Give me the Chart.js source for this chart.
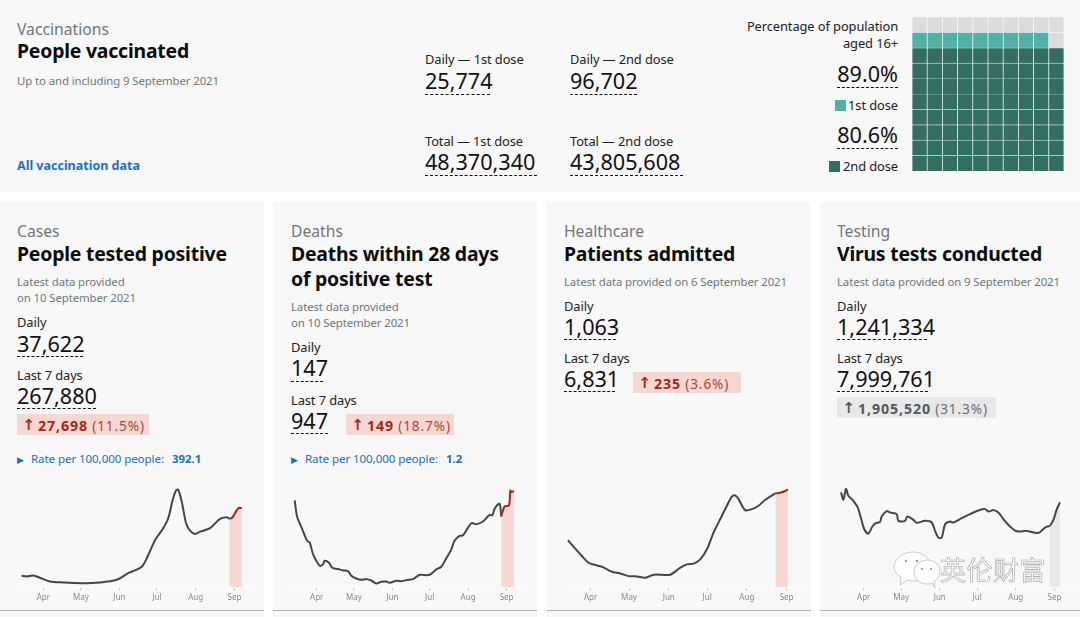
<!DOCTYPE html>
<html>
<head>
<meta charset="utf-8">
<script src="https://cdn.jsdelivr.net/npm/chart.js@4"></script>
<style>
  html, body { margin: 0; padding: 0; background: #fff; }
  body { width: 1080px; height: 617px; overflow: hidden; position: relative; font-family: "Noto Sans", sans-serif; color: #0b0c0c; }
  .panel { position: absolute; background: #f8f8f8; }
  .t { position: absolute; white-space: nowrap; transform: translateY(-50%); line-height: 1; }
  .kicker { font-size: 15.7px; color: #6f777b; margin-top: 1px; }
  .title { font-size: 19.4px; font-weight: 700; letter-spacing: -0.2px; }
  .small { font-size: 11.4px; color: #6f777b; letter-spacing: -0.1px; }
  .label { font-size: 12.9px; color: #222; letter-spacing: -0.1px; margin-top: -0.5px; }
  .num { font-size: 21.6px; color: #111; font-weight: 400; }
  .link { color: #1d70b8; }
  .rule { position: absolute; border-top: 1px dashed #111; height: 0; }
  .box { position: absolute; }
  canvas { position: absolute; }
</style>
</head>
<body>
<script>
// Chart data
const monthDays = [17, 47, 78, 108, 139, 170];
const monthLabels = ['Apr', 'May', 'Jun', 'Jul', 'Aug', 'Sep'];

const casesDays = [-0.4, 3.6, 9, 14.3, 22.3, 33, 47.7, 62.4, 75.7, 85, 95.8, 101, 106.5, 113, 117, 120.6, 123.3, 125, 127.8, 131.3, 134.5, 138.5, 142.5, 150.5, 158.5, 163.9, 166, 168.4, 171.3, 173.5, 175.9];
const casesValues = [5670, 5350, 5830, 4700, 2900, 2430, 2100, 2430, 3730, 6970, 10040, 15700, 23000, 28700, 33500, 42400, 47000, 47300, 41600, 31100, 27500, 25900, 27050, 28700, 33200, 34000, 33200, 33860, 36800, 38550, 38400];

const deathsDays = [-0.7, 1.2, 4.7, 9.2, 11.4, 14, 16.7, 19.4, 22.1, 23.4, 26.9, 29.6, 34.2, 38.2, 42.2, 44.9, 48.9, 53, 57, 61, 65, 69.1, 73.1, 75.8, 81.2, 85.2, 90.6, 94.6, 100, 104, 108, 113.4, 117.4, 121.4, 125.5, 128.1, 132.2, 134.9, 141.6, 145.6, 151, 156.3, 158.5, 160.6, 164.4, 165.7, 168.4, 171.9, 173, 174.3, 175.9];
const deathsValues = [130, 106, 90, 70, 67, 50, 40, 32.5, 34.5, 40, 37, 29.5, 27.5, 25.5, 24.5, 17.5, 13.5, 11.5, 12.5, 10.5, 6, 8.5, 9, 7, 10, 9.5, 11.5, 12.5, 19, 18.5, 19, 27, 31, 43.5, 57, 70, 77, 78, 96, 94.5, 98.5, 108.5, 107.5, 118.5, 125, 106, 121, 122.5, 144.5, 142.5, 144.5];

const admissionsDays = [-0.7, 5, 10.2, 15.4, 20.6, 25.8, 33.7, 40.2, 46.7, 53.2, 59.7, 66.2, 72.7, 79.2, 87, 92.2, 97.4, 102.6, 107.8, 113, 118.2, 123.4, 127.3, 129.9, 132.5, 137.7, 142.9, 148.1, 153.4, 161.2, 165.1, 169, 171];
const admissionsValues = [494, 406, 329, 259, 235, 217, 165, 147, 119, 116, 102, 133, 133, 133, 207, 242, 249, 294, 399, 574, 714, 854, 949, 963, 924, 809, 819, 854, 917, 984, 991, 1008, 1026];

const testsDays = [-1.2, 0.7, 2.8, 4.7, 8.7, 12.2, 14.9, 17.5, 20.7, 24, 26.6, 30.1, 31.4, 35.5, 38.1, 43.5, 44.8, 50.2, 52, 56.9, 59.5, 66.2, 71.6, 74.2, 76.9, 79.6, 82.3, 86.3, 88.9, 95.6, 102.3, 109, 114.4, 117, 121, 125, 129.1, 134.4, 139.8, 147.8, 157.1, 162.5, 166.5, 169.2, 171.9, 174.5];
const testsValues = [1136, 1048, 1176, 1096, 1036, 956, 824, 696, 644, 728, 768, 784, 848, 912, 896, 876, 796, 796, 848, 808, 772, 796, 776, 676, 596, 596, 756, 788, 776, 828, 876, 920, 936, 908, 924, 896, 816, 728, 672, 676, 652, 716, 736, 808, 936, 1016];

const firstDoseCells = 89;
const secondDoseCells = 80;

function txt(x, y, str, cls, style) {
  const d = document.createElement('div');
  d.className = 't ' + cls;
  d.style.left = x + 'px';
  d.style.top = y + 'px';
  d.innerHTML = str;
  if (style) d.style.cssText += style;
  document.body.appendChild(d);
  return d;
}
function txtRight(x, y, str, cls) {
  return txt(0, y, str, cls, 'left:auto;right:' + (1080 - x) + 'px;');
}
function rule(x1, x2, y) {
  const d = document.createElement('div');
  d.className = 'rule';
  d.style.cssText = `left:${x1}px;width:${x2 - x1}px;top:${y}px;`;
  document.body.appendChild(d);
}
function panel(x, y, w, h, extra) {
  const d = document.createElement('div');
  d.className = 'panel';
  d.style.cssText = `left:${x}px;top:${y}px;width:${w}px;height:${h}px;` + (extra || '');
  document.body.appendChild(d);
}
function changeBox(x1, x2, y1, y2, bg, fg, bold, rest) {
  const d = document.createElement('div');
  d.className = 'box';
  d.style.cssText = `left:${x1}px;width:${x2 - x1}px;top:${y1}px;height:${y2 - y1}px;background:${bg};`;
  document.body.appendChild(d);
  const mid = (y1 + y2) / 2;
  txt(x1 + 5.5, mid, '↑', '', `color:${fg};font-family:"DejaVu Sans";font-weight:700;font-size:15px;`);
  txt(x1 + 21, mid, `<b style="font-size:14.2px;letter-spacing:0.9px">${bold}</b> <span style="font-size:13.6px;letter-spacing:0.9px;opacity:.85">${rest}</span>`, '', `color:${fg};`);
}
function rate(x, value) {
  txt(x, 459, '▶', 'link', 'font-size:9px;');
  txt(x + 14, 459, 'Rate per 100,000 people:', 'link', 'font-size:11.6px;letter-spacing:-0.1px;');
  txt(x + 155, 459, value, 'link', 'font-size:11.4px;font-weight:700;');
}

// Top panel
panel(0, 0, 1080, 192);
txt(17, 29, 'Vaccinations', 'kicker');
txt(17, 51, 'People vaccinated', 'title');
txt(17, 81, 'Up to and including 9 September 2021', 'small');
txt(17, 166, 'All vaccination data', 'link', 'font-size:12.5px;font-weight:700;');

txt(425, 59, 'Daily — 1st dose', 'label');
txt(425, 81, '25,774', 'num');
rule(425, 490, 94);
txt(570, 59, 'Daily — 2nd dose', 'label');
txt(570, 81, '96,702', 'num');
rule(570, 637, 94);
txt(425, 141, 'Total — 1st dose', 'label');
txt(425, 162, '48,370,340', 'num');
rule(425, 537, 175);
txt(570, 141, 'Total — 2nd dose', 'label');
txt(570, 162, '43,805,608', 'num');
rule(570, 683, 175);

txtRight(898, 26, 'Percentage of population', 'label');
txtRight(898, 43, 'aged 16+', 'label');
txtRight(898, 74, '89.0%', 'num');
rule(837, 898, 87);
txtRight(898, 105, '1st dose', 'label');
txtRight(898, 135, '80.6%', 'num');
rule(837, 898, 148);
txtRight(898, 166, '2nd dose', 'label');
panel(835, 100, 11, 11, 'background:#52b1a6;');
panel(829, 161, 11, 11, 'background:#336e63;');

// Cards
[0, 273.3, 546.7, 820].forEach(x => {
  panel(x, 202, 264, 408);
  panel(x, 610, 264, 7, 'border-top:1px solid #b1b4b6;');
});

txt(17, 231, 'Cases', 'kicker');
txt(17, 254, 'People tested positive', 'title');
txt(17, 282, 'Latest data provided', 'small');
txt(17, 298, 'on 10 September 2021', 'small');
txt(17, 322, 'Daily', 'label');
txt(17, 344, '37,622', 'num');
rule(17, 83, 356);
txt(17, 375, 'Last 7 days', 'label');
txt(17, 396, '267,880', 'num');
rule(17, 96, 408);
changeBox(17, 149, 414, 435, '#f6d7d2', '#a5281b', '27,698', '(11.5%)');
rate(17, '392.1');

txt(291, 231, 'Deaths', 'kicker');
txt(291, 254, 'Deaths within 28 days', 'title');
txt(291, 279, 'of positive test', 'title');
txt(291, 307, 'Latest data provided', 'small');
txt(291, 323, 'on 10 September 2021', 'small');
txt(291, 347, 'Daily', 'label');
txt(291, 368, '147', 'num');
rule(291, 323, 381);
txt(291, 400, 'Last 7 days', 'label');
txt(291, 421, '947', 'num');
rule(291, 328, 433);
changeBox(346, 454, 414, 435, '#f6d7d2', '#a5281b', '149', '(18.7%)');
rate(291, '1.2');

txt(564, 231, 'Healthcare', 'kicker');
txt(564, 254, 'Patients admitted', 'title');
txt(564, 282, 'Latest data provided on 6 September 2021', 'small');
txt(564, 306, 'Daily', 'label');
txt(564, 327, '1,063', 'num');
rule(564, 616, 339);
txt(564, 358, 'Last 7 days', 'label');
txt(564, 379, '6,831', 'num');
rule(564, 615, 391);
changeBox(633, 741, 372, 393, '#f6d7d2', '#a5281b', '235', '(3.6%)');

txt(837, 231, 'Testing', 'kicker');
txt(837, 254, 'Virus tests conducted', 'title');
txt(837, 282, 'Latest data provided on 9 September 2021', 'small');
txt(837, 306, 'Daily', 'label');
txt(837, 327, '1,241,334', 'num');
rule(837, 927, 339);
txt(837, 358, 'Last 7 days', 'label');
txt(837, 379, '7,999,761', 'num');
rule(837, 928, 391);
changeBox(837, 996, 397, 418, '#e8e8e8', '#505a5f', '1,905,520', '(31.3%)');

function addCanvas(left, top, w, h) {
  const c = document.createElement('canvas');
  c.style.left = left + 'px';
  c.style.top = top + 'px';
  c.style.width = w + 'px';
  c.style.height = h + 'px';
  c.width = w;
  c.height = h;
  document.body.appendChild(c);
  return c;
}

// Sparkline with the last stretch coloured and filled under the line.
// Canvas runs past the last tick so the Sep label doesn't shrink the chart area.
function sparkline(left, days, values, splitDay, xMin, xMax, yMax, lineEnd, fillColor) {
  const pts = days.map((d, i) => ({x: d, y: values[i]}));
  const canvas = addCanvas(left, 483, 240, 124);
  return new Chart(canvas, {
    type: 'line',
    data: {
      datasets: [
        {data: pts.filter(p => p.x >= splitDay), borderColor: lineEnd, backgroundColor: fillColor, fill: 'origin', borderWidth: 2, tension: 0.3, pointRadius: 0},
        {data: pts.filter(p => p.x <= splitDay), borderColor: '#41474a', fill: false, borderWidth: 2, tension: 0.3, pointRadius: 0}
      ]
    },
    options: {
      responsive: false,
      animation: false,
      layout: {padding: 0},
      plugins: {legend: {display: false}, tooltip: {enabled: false}},
      scales: {
        x: {
          type: 'linear',
          min: xMin,
          max: xMax,
          afterBuildTicks: axis => { axis.ticks = monthDays.map(v => ({value: v})); },
          afterFit: axis => { axis.height = 19.5; },
          grid: {drawOnChartArea: false, tickLength: 3, tickColor: '#c8c8c8'},
          border: {color: '#fdfdfd'},
          ticks: {
            autoSkip: false,
            maxRotation: 0,
            padding: 2,
            color: '#858b8e',
            font: {size: 8, family: '"Noto Sans"'},
            callback: value => monthLabels[monthDays.indexOf(value)]
          }
        },
        y: {display: false, min: 0, max: yMax}
      }
    }
  });
}

sparkline(18, casesDays, casesValues, 166, -3.3, 188.9, 50544, '#a5281b', '#f6d7d2');
sparkline(291.3, deathsDays, deathsValues, 165.7, -3.7, 189.7, 156, '#a5281b', '#f6d7d2');
sparkline(564.7, admissionsDays, admissionsValues, 161.2, -3, 184.4, 1092, '#a5281b', '#f6d7d2');
sparkline(838, testsDays, testsValues, 166.5, -3.6, 188.9, 1248, '#41474a', '#e9e9e9');

// Waffle: ten columns by ten rows, stacked from the bottom
const waffleCanvas = addCanvas(912, 17, 152, 154);
const waffleSets = [];
for (let row = 0; row < 10; row++) {
  const colours = [];
  for (let col = 0; col < 10; col++) {
    const n = row * 10 + col;
    colours.push(n < secondDoseCells ? '#336e63' : n < firstDoseCells ? '#52b1a6' : '#dcdcdc');
  }
  waffleSets.push({data: new Array(10).fill(1), backgroundColor: colours, borderColor: 'rgba(248,248,248,0.55)', borderWidth: 0.7, barPercentage: 1, categoryPercentage: 1, stack: 'a'});
}
new Chart(waffleCanvas, {
  type: 'bar',
  data: {labels: ['1', '2', '3', '4', '5', '6', '7', '8', '9', '10'], datasets: waffleSets},
  options: {
    responsive: false,
    animation: false,
    plugins: {legend: {display: false}, tooltip: {enabled: false}},
    scales: {
      x: {display: false, stacked: true},
      y: {display: false, stacked: true, min: 0, max: 10}
    }
  }
});

// Watermark
const mark = document.createElementNS('http://www.w3.org/2000/svg', 'svg');
mark.setAttribute('width', '50');
mark.setAttribute('height', '40');
mark.style.cssText = 'position:absolute;left:892px;top:549px;';
mark.innerHTML = '<g fill="#fff" stroke="#bdbdbd" stroke-width="0.8">'
  + '<path d="M9 28 L8 36 L15 31 Q19 32 22 32 C34 32 39 25 39 18 C39 10 31 3 21 3 C11 3 2 10 2 18 C2 22 5 26 9 28 Z"/>'
  + '<path d="M40 34 L43 39 L42 32 C46 30 48 26 48 22 C48 15 41 11 35 11 C28 11 22 16 22 23 C22 30 28 35 35 35 Q38 35 40 34 Z"/></g>'
  + '<g fill="#9a9a9a"><circle cx="14" cy="12" r="1.2"/><circle cx="25" cy="12" r="1.2"/><circle cx="30" cy="20" r="1.1"/><circle cx="39" cy="20" r="1.1"/></g>';
document.body.appendChild(mark);
txt(940, 569, '英伦财富', '', 'font-family:"Noto Sans CJK SC";font-size:26px;color:#fff;letter-spacing:0.5px;-webkit-text-stroke:0.6px #a0a0a0;');
</script>
</body>
</html>
